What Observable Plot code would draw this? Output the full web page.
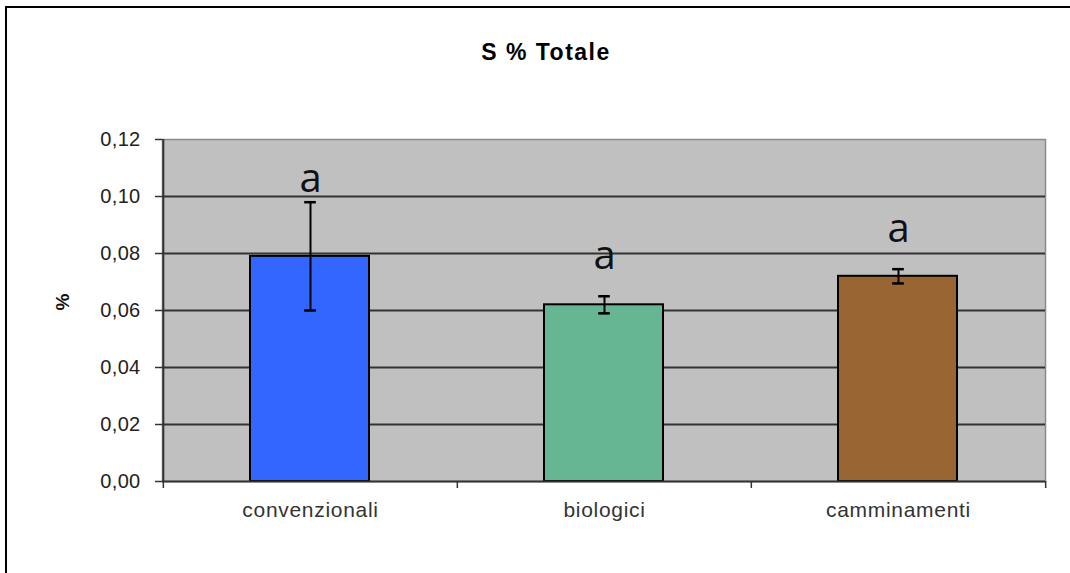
<!DOCTYPE html>
<html>
<head>
<meta charset="utf-8">
<script src="https://cdn.jsdelivr.net/npm/d3@7"></script>
<script src="https://cdn.jsdelivr.net/npm/@observablehq/plot@0.6"></script>
<style>
  html, body { margin: 0; padding: 0; background: #fff; overflow: hidden; }
  #wrap { position: relative; width: 1070px; height: 573px; overflow: hidden; font-family: "Liberation Sans", Arial, sans-serif; }
  .bl { position: absolute; background: #000; }
  #title { position: absolute; left: 346px; width: 400px; top: 39px; text-align: center; font-weight: bold; font-size: 23px; color: #000; letter-spacing: 1.5px; }
  #chart { position: absolute; left: 0; top: 100px; }
  #chart svg { overflow: visible; }
  #chart svg g[aria-label="y-axis tick label"] text { letter-spacing: 0.3px; }
  #chart svg g[aria-label="x-axis tick label"] text { letter-spacing: 0.7px; }
</style>
</head>
<body>
<div id="wrap">
  <div class="bl" style="left:5px;top:6px;width:1065px;height:2px"></div>
  <div class="bl" style="left:5px;top:6px;width:2px;height:567px"></div>
  <div id="title">S % Totale</div>
  <div id="chart"></div>
</div>
<script>
const categories = ["convenzionali", "biologici", "camminamenti"];
const means = [0.079, 0.062, 0.072];
const errors = [0.019, 0.003, 0.0025];
const letters = ["a", "a", "a"];
const letterY = [0.1015, 0.0745, 0.0842];
const colors = ["#3366ff", "#66b593", "#996633"];
const yTicks = [0, 0.02, 0.04, 0.06, 0.08, 0.10, 0.12];

const data = categories.map((c, i) => ({
  cat: c, mean: means[i], lo: means[i] - errors[i], hi: means[i] + errors[i],
  letter: letters[i], ly: letterY[i], color: colors[i]
}));

const W = 1070, H = 473, mL = 162, mR = 25, mT = 39, mB = 92;
const half = (W - mL - mR) / categories.length / 2;
const plotH = H - mT - mB;
const fmt = d => d3.format(".2f")(d).replace(".", ",");

const chart = Plot.plot({
  width: W, height: H,
  marginTop: mT, marginBottom: mB, marginLeft: mL, marginRight: mR,
  style: { background: "transparent", fontFamily: "Liberation Sans, Arial, sans-serif" },
  x: { domain: categories, padding: 0, axis: null, label: null },
  y: { domain: [0, 0.12], axis: null, label: null },
  color: { type: "identity" },
  marks: [
    Plot.frame({ fill: "#c0c0c0", stroke: "#8a8a8a", strokeWidth: 1.5 }),
    Plot.gridY(yTicks.filter(t => t > 0 && t < 0.12), { stroke: "#333", strokeOpacity: 1, strokeWidth: 2 }),
    Plot.barY(data, { x: "cat", y: "mean", fill: "color", stroke: "#000", strokeWidth: 2, insetLeft: 87, insetRight: 88 }),
    Plot.ruleX(data, { x: "cat", y1: "lo", y2: "hi", stroke: "#000", strokeWidth: 2 }),
    Plot.tickY(data, { x: "cat", y: "lo", stroke: "#000", strokeWidth: 2.5, insetLeft: half - 6, insetRight: half - 6 }),
    Plot.tickY(data, { x: "cat", y: "hi", stroke: "#000", strokeWidth: 2.5, insetLeft: half - 6, insetRight: half - 6 }),
    Plot.text(data, { x: "cat", y: "ly", text: "letter", fontSize: 40, fontFamily: "Open Sans, DejaVu Sans, sans-serif", lineAnchor: "bottom", fill: "#111" }),
    Plot.ruleY([0], { stroke: "#333", strokeWidth: 2 }),
    Plot.ruleX([categories[0]], { dx: -half, stroke: "#333", strokeWidth: 2 }),
    Plot.ruleX(categories, { dx: -half, stroke: "#333", strokeWidth: 1.5, insetTop: plotH, insetBottom: -7 }),
    Plot.ruleX([categories[categories.length - 1]], { dx: half, stroke: "#333", strokeWidth: 1.5, insetTop: plotH, insetBottom: -7 }),
    Plot.axisY(yTicks, { tickFormat: fmt, tickSize: 7, tickPadding: 15, fontSize: 20, stroke: "#333", strokeWidth: 1.5, fill: "#222", label: null }),
    Plot.axisX({ tickSize: 0, tickPadding: 21, fontSize: 21, fill: "#333", label: null }),
    Plot.text(["%"], { frameAnchor: "left", dx: -100, rotate: -90, fontSize: 19, fontWeight: "bold", fill: "#111" })
  ]
});
document.getElementById("chart").appendChild(chart);
</script>
</body>
</html>
